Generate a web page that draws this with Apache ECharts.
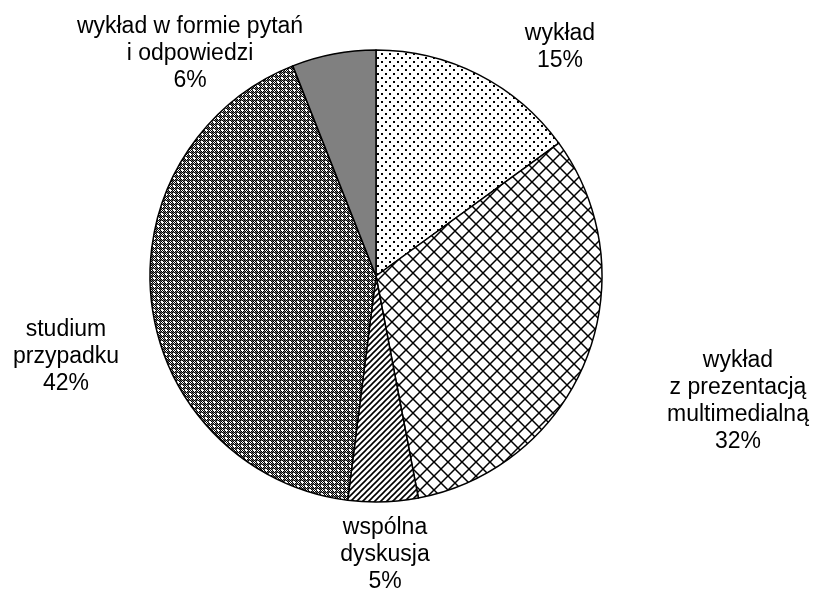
<!DOCTYPE html>
<html>
<head>
<meta charset="utf-8">
<script src="https://cdn.jsdelivr.net/npm/echarts@6/dist/echarts.min.js"></script>
<style>
  html, body { margin: 0; padding: 0; background: #fff; }
  #chart { width: 817px; height: 594px; }
</style>
</head>
<body>
<div id="chart"></div>
<script>
  // dane z wykresu
  const categories = ['wykład', 'wykład\nz prezentacją\nmultimedialną', 'wspólna\ndyskusja', 'studium\nprzypadku', 'wykład w formie pytań\ni odpowiedzi'];
  const values = [15, 32, 5, 42, 6];

  // where each label sits (px)
  const labelPos = [[560, 47], [738, 401], [385, 555], [66, 357], [190, 54]];

  function tile (w, h, draw) {
    const c = document.createElement('canvas');
    c.width = w; c.height = h;
    const ctx = c.getContext('2d');
    ctx.fillStyle = '#fff';
    ctx.fillRect(0, 0, w, h);
    draw(ctx);
    return { image: c, repeat: 'repeat' };
  }

  // kropki
  const dots = tile(8, 8, function (ctx) {
    ctx.fillStyle = '#000';
    ctx.fillRect(1, 1, 2, 2);
    ctx.fillRect(5, 5, 2, 2);
  });
  // kratka ukośna
  const cross = tile(14, 14, function (ctx) {
    ctx.strokeStyle = '#000';
    ctx.lineWidth = 1.5;
    ctx.beginPath();
    ctx.moveTo(-1, -1); ctx.lineTo(15, 15);
    ctx.moveTo(15, -1); ctx.lineTo(-1, 15);
    ctx.stroke();
  });
  // paski
  const stripes = tile(6, 6, function (ctx) {
    ctx.strokeStyle = '#000';
    ctx.lineWidth = 1.6;
    ctx.beginPath();
    ctx.moveTo(-1, 7); ctx.lineTo(7, -1);
    ctx.moveTo(-4, 4); ctx.lineTo(4, -4);
    ctx.moveTo(2, 10); ctx.lineTo(10, 2);
    ctx.stroke();
  });
  // szachownica z krzyżykami
  const checker = tile(8, 8, function (ctx) {
    for (let y = 0; y < 8; y++) {
      for (let x = 0; x < 8; x++) {
        if ((x + y) % 2 === 0) {
          ctx.fillStyle = '#000';
        } else if (x % 4 === 0 || y % 4 === 0) {
          ctx.fillStyle = '#6a6a6a';
        } else {
          ctx.fillStyle = '#fff';
        }
        ctx.fillRect(x, y, 1, 1);
      }
    }
    ctx.fillStyle = '#fff';
    ctx.fillRect(5, 1, 2, 2);
    ctx.fillRect(1, 5, 2, 2);
  });
  const fills = [dots, cross, stripes, checker, '#808080'];

  const chart = echarts.init(document.getElementById('chart'));
  chart.setOption({
    animation: false,
    series: [{
      type: 'pie',
      center: [376, 276],
      radius: 226,
      startAngle: 90,
      clockwise: true,
      data: categories.map(function (name, i) {
        return { name: name, value: values[i], itemStyle: { color: fills[i] } };
      }),
      itemStyle: { borderColor: '#000', borderWidth: 1.5 },
      label: {
        show: true,
        formatter: '{b}\n{c}%',
        fontFamily: 'Liberation Sans, Arial, sans-serif',
        fontSize: 23,
        lineHeight: 27,
        color: '#000',
        align: 'center',
        overflow: 'none'
      },
      labelLine: { show: false },
      labelLayout: function (params) {
        const p = labelPos[params.dataIndex];
        return { x: p[0], y: p[1], align: 'center', verticalAlign: 'middle' };
      },
      emphasis: { disabled: true }
    }]
  });
</script>
</body>
</html>
